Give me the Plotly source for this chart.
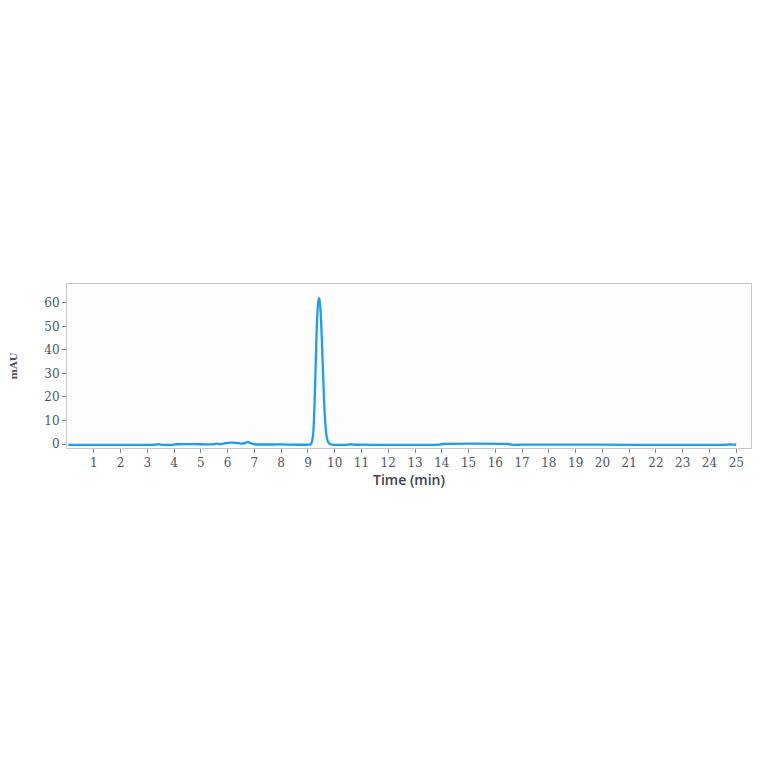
import plotly.graph_objects as go

# chromatogram trace (time in min, signal in mAU)
time_min = [0.05, 1.0, 2.0, 3.0, 3.3, 3.4, 3.5, 4.0, 4.1, 5.0, 5.5, 5.6, 5.7,
            5.9, 6.1, 6.3, 6.5, 6.65, 6.75, 6.85, 7.0, 8.0, 9.0, 9.1, 9.15,
            9.2, 9.25, 9.3, 9.35, 9.4, 9.43, 9.47, 9.5, 9.55, 9.6, 9.65, 9.7,
            9.75, 9.8, 9.9, 10.5, 10.6, 10.7, 11.0, 13.9, 14.0, 16.5, 16.6,
            17.0, 20.0, 24.7, 24.8, 24.9, 25.0]
signal_mau = [-0.4, -0.4, -0.4, -0.4, -0.3, -0.1, -0.3, -0.3, -0.1, -0.1,
              -0.1, 0.2, -0.1, 0.3, 0.6, 0.5, 0.2, 0.4, 0.9, 0.4, -0.1, -0.2,
              -0.3, -0.2, 1.0, 5.0, 18.0, 38.0, 55.0, 62.0, 61.5, 57.0, 50.0,
              35.0, 19.0, 8.5, 3.0, 1.0, 0.2, -0.3, -0.3, -0.1, -0.3, -0.3,
              -0.3, 0.0, 0.0, -0.3, -0.3, -0.3, -0.3, -0.1, -0.3, -0.3]

x_ticks = list(range(1, 26))
y_ticks = [0, 10, 20, 30, 40, 50, 60]

fig = go.Figure()
fig.add_trace(go.Scatter(
    x=time_min, y=signal_mau, mode="lines",
    line=dict(color="#1f9cf0", width=2.3, shape="spline", smoothing=0.6),
    showlegend=False,
))

tick_font = dict(family="DejaVu Serif", size=12, color="#4e5462")
fig.update_xaxes(
    range=[0, 25.55], tickvals=x_ticks, ticks="outside", ticklen=4,
    tickcolor="#8a8a8a", tickfont=tick_font, showgrid=False, zeroline=False,
    showline=True, linecolor="#c4c8d0", linewidth=1, mirror=True,
    title=dict(text="Time (min)",
               font=dict(family="Open Sans", size=14, color="#3a4150", weight=600),
               standoff=2),
)
fig.update_yaxes(
    range=[-1.7, 68], tickvals=y_ticks, ticks="outside", ticklen=4,
    tickcolor="#8a8a8a", tickfont=tick_font, showgrid=False, zeroline=False,
    showline=True, linecolor="#c4c8d0", linewidth=1, mirror=True,
    title=dict(text="<b>mAU</b>", font=dict(family="DejaVu Serif", size=10, color="#4e5462"),
               standoff=24),
)
fig.update_layout(
    width=764, height=764,
    margin=dict(l=59, r=21, t=276, b=324, autoexpand=False),
    paper_bgcolor="white", plot_bgcolor="#fdfdfd",
)

fig.write_html("out.html")
